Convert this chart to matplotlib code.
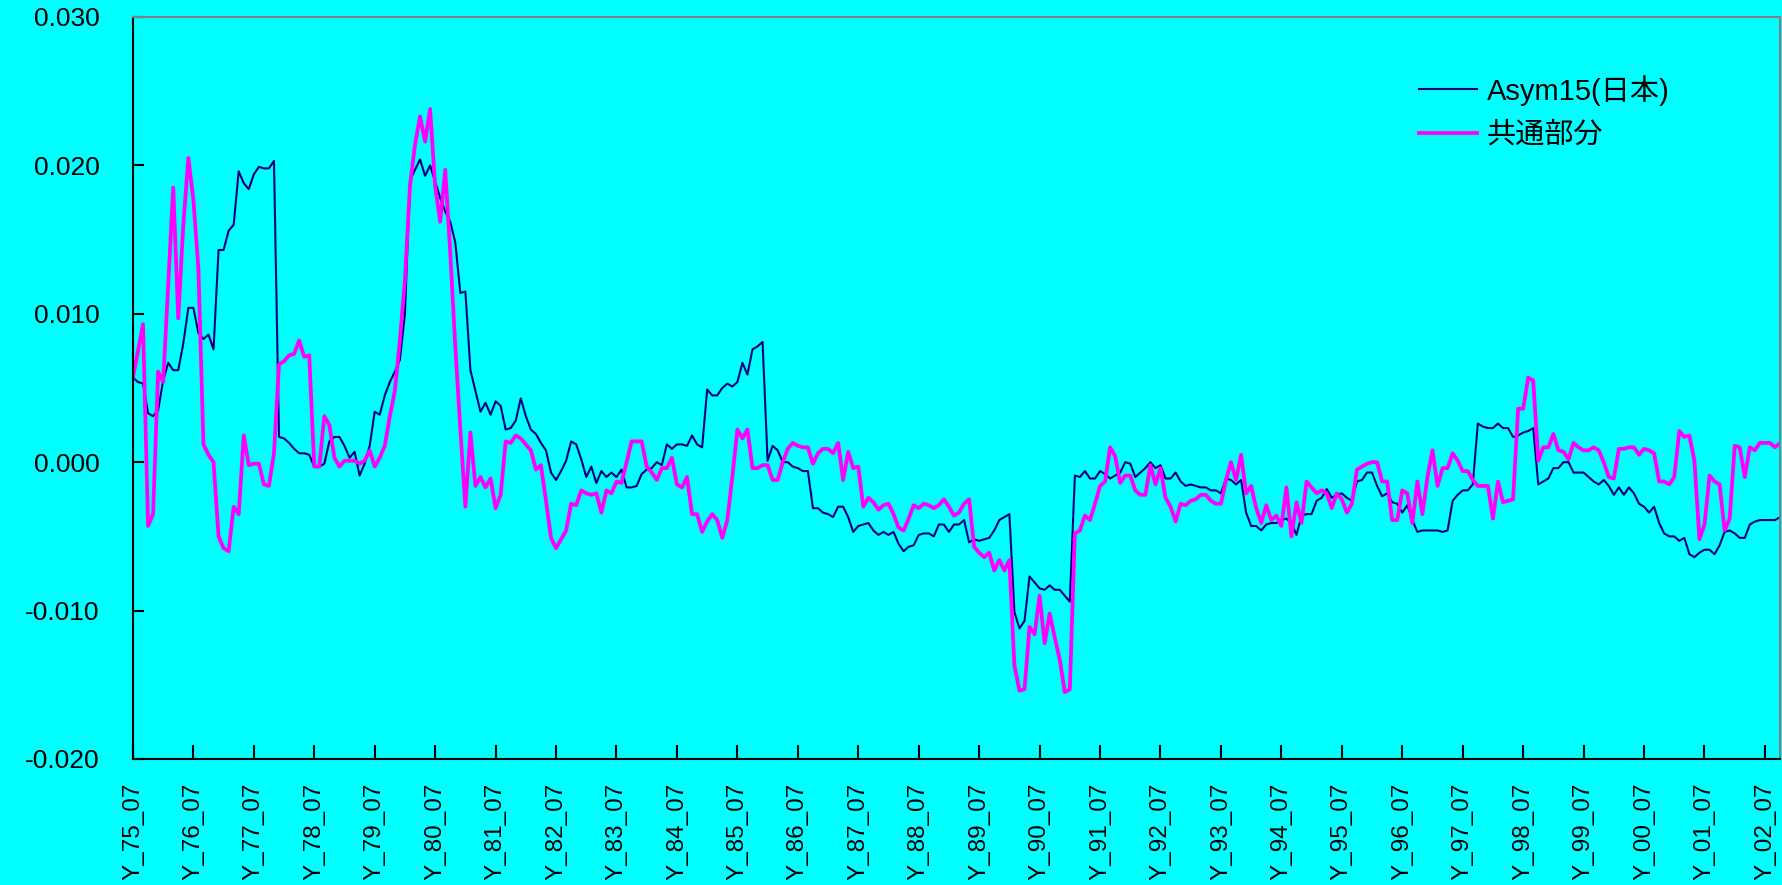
import matplotlib
matplotlib.use("Agg")
import matplotlib.pyplot as plt
from matplotlib.ticker import FormatStrFormatter

# font: arial-like for latin, CJK fallback for the legend
plt.rcParams["font.family"] = ["Liberation Sans", "Noto Sans CJK JP"]

# monthly values from Y_75_07 onwards
asym15 = [
    0.0057, 0.0054, 0.0053, 0.0033, 0.0031, 0.0035, 0.0055, 0.0067, 0.0062, 0.0062,
    0.0080, 0.0104, 0.0104, 0.0087, 0.0083, 0.0086, 0.0076, 0.0143, 0.0143, 0.0156,
    0.0160, 0.0196, 0.0188, 0.0184, 0.0194, 0.0199, 0.0198, 0.0198, 0.0203, 0.0017,
    0.0016, 0.0013, 0.0009, 0.0006, 0.0006, 0.0005, -0.0003, -0.0003, -0.0001, 0.0014,
    0.0017, 0.0017, 0.0011, 0.0003, 0.0007, -0.0009, -0.0001, 0.0011, 0.0034, 0.0032,
    0.0045, 0.0054, 0.0061, 0.0069, 0.0100, 0.0190, 0.0197, 0.0204, 0.0193, 0.0200,
    0.0189, 0.0178, 0.0169, 0.0162, 0.0148, 0.0114, 0.0115, 0.0062, 0.0048, 0.0034,
    0.0040, 0.0032, 0.0041, 0.0038, 0.0022, 0.0023, 0.0028, 0.0043, 0.0031, 0.0022,
    0.0019, 0.0013, 0.0008, -0.0007, -0.0012, -0.0006, 0.0001, 0.0014, 0.0012, 0.0002,
    -0.0010, -0.0003, -0.0014, -0.0006, -0.0010, -0.0007, -0.0010, -0.0005, -0.0017, -0.0017,
    -0.0016, -0.0008, -0.0005, -0.0004, 0.0000, -0.0002, 0.0012, 0.0009, 0.0012, 0.0012,
    0.0011, 0.0018, 0.0012, 0.0010, 0.0049, 0.0045, 0.0045, 0.0050, 0.0053, 0.0051,
    0.0054, 0.0067, 0.0059, 0.0076, 0.0078, 0.0081, 0.0001, 0.0011, 0.0008, 0.0000,
    0.0000, -0.0003, -0.0004, -0.0006, -0.0006, -0.0031, -0.0031, -0.0034, -0.0035, -0.0037,
    -0.0030, -0.0030, -0.0037, -0.0047, -0.0043, -0.0042, -0.0041, -0.0046, -0.0049, -0.0047,
    -0.0049, -0.0047, -0.0055, -0.0060, -0.0057, -0.0056, -0.0049, -0.0048, -0.0048, -0.0050,
    -0.0042, -0.0042, -0.0047, -0.0042, -0.0042, -0.0039, -0.0054, -0.0052, -0.0053, -0.0052,
    -0.0051, -0.0046, -0.0039, -0.0037, -0.0035, -0.0101, -0.0112, -0.0107, -0.0077, -0.0081,
    -0.0085, -0.0086, -0.0083, -0.0086, -0.0086, -0.0090, -0.0094, -0.0009, -0.0010, -0.0006,
    -0.0011, -0.0011, -0.0006, -0.0008, -0.0011, -0.0009, -0.0007, 0.0000, -0.0001, -0.0010,
    -0.0007, -0.0004, 0.0000, -0.0004, -0.0002, -0.0011, -0.0011, -0.0007, -0.0013, -0.0016,
    -0.0015, -0.0016, -0.0017, -0.0017, -0.0019, -0.0019, -0.0021, -0.0011, -0.0012, -0.0015,
    -0.0012, -0.0034, -0.0043, -0.0043, -0.0046, -0.0042, -0.0041, -0.0041, -0.0039, -0.0038,
    -0.0041, -0.0049, -0.0036, -0.0035, -0.0035, -0.0026, -0.0024, -0.0018, -0.0024, -0.0022,
    -0.0021, -0.0024, -0.0026, -0.0013, -0.0012, -0.0007, -0.0007, -0.0016, -0.0023, -0.0021,
    -0.0027, -0.0028, -0.0034, -0.0029, -0.0039, -0.0047, -0.0046, -0.0046, -0.0046, -0.0046,
    -0.0047, -0.0046, -0.0026, -0.0022, -0.0019, -0.0019, -0.0015, 0.0026, 0.0024, 0.0023,
    0.0023, 0.0026, 0.0023, 0.0023, 0.0017, 0.0018, 0.0020, 0.0021, 0.0023, -0.0015,
    -0.0013, -0.0011, -0.0004, -0.0004, 0.0000, 0.0000, -0.0007, -0.0007, -0.0007, -0.0010,
    -0.0013, -0.0015, -0.0012, -0.0016, -0.0022, -0.0017, -0.0022, -0.0017, -0.0021, -0.0028,
    -0.0030, -0.0034, -0.0030, -0.0041, -0.0048, -0.0050, -0.0050, -0.0053, -0.0051, -0.0062,
    -0.0064, -0.0061, -0.0059, -0.0059, -0.0062, -0.0056, -0.0047, -0.0046, -0.0048, -0.0051,
    -0.0051, -0.0042, -0.0040, -0.0039, -0.0039, -0.0039, -0.0039, -0.0037,
]

common = [
    0.0057, 0.0075, 0.0093, -0.0043, -0.0035, 0.0061, 0.0054, 0.0120, 0.0185, 0.0097,
    0.0160, 0.0205, 0.0177, 0.0130, 0.0012, 0.0005, 0.0000, -0.0050, -0.0058, -0.0060,
    -0.0030, -0.0035, 0.0018, -0.0002, -0.0001, -0.0001, -0.0015, -0.0016, 0.0006, 0.0066,
    0.0068, 0.0072, 0.0073, 0.0082, 0.0071, 0.0072, -0.0003, -0.0003, 0.0031, 0.0025,
    0.0003, -0.0003, 0.0001, 0.0001, 0.0001, -0.0001, 0.0001, 0.0008, -0.0003, 0.0003,
    0.0011, 0.0031, 0.0048, 0.0082, 0.0123, 0.0186, 0.0214, 0.0233, 0.0216, 0.0238,
    0.0186, 0.0162, 0.0197, 0.0141, 0.0078, 0.0022, -0.0030, 0.0020, -0.0016, -0.0010,
    -0.0017, -0.0011, -0.0031, -0.0022, 0.0014, 0.0013, 0.0018, 0.0016, 0.0012, 0.0008,
    -0.0005, -0.0002, -0.0026, -0.0051, -0.0058, -0.0052, -0.0046, -0.0028, -0.0029, -0.0019,
    -0.0021, -0.0022, -0.0021, -0.0034, -0.0019, -0.0021, -0.0013, -0.0014, 0.0000, 0.0014,
    0.0014, 0.0014, -0.0003, -0.0007, -0.0012, -0.0004, -0.0004, 0.0003, -0.0015, -0.0017,
    -0.0010, -0.0035, -0.0035, -0.0047, -0.0040, -0.0035, -0.0039, -0.0051, -0.0039, -0.0010,
    0.0022, 0.0016, 0.0022, -0.0004, -0.0004, -0.0002, -0.0002, -0.0012, -0.0012, 0.0000,
    0.0009, 0.0013, 0.0011, 0.0010, 0.0010, -0.0001, 0.0006, 0.0009, 0.0009, 0.0006,
    0.0013, -0.0012, 0.0007, -0.0004, -0.0003, -0.0030, -0.0024, -0.0027, -0.0032, -0.0029,
    -0.0028, -0.0035, -0.0044, -0.0046, -0.0038, -0.0029, -0.0031, -0.0028, -0.0029, -0.0031,
    -0.0029, -0.0025, -0.0030, -0.0036, -0.0034, -0.0028, -0.0025, -0.0057, -0.0061, -0.0064,
    -0.0061, -0.0073, -0.0066, -0.0073, -0.0066, -0.0137, -0.0154, -0.0153, -0.0111, -0.0116,
    -0.0090, -0.0122, -0.0102, -0.0118, -0.0133, -0.0155, -0.0153, -0.0048, -0.0046, -0.0036,
    -0.0039, -0.0028, -0.0016, -0.0013, 0.0010, 0.0004, -0.0014, -0.0009, -0.0009, -0.0019,
    -0.0022, -0.0022, -0.0002, -0.0015, -0.0004, -0.0024, -0.0030, -0.0040, -0.0028, -0.0029,
    -0.0026, -0.0025, -0.0022, -0.0022, -0.0026, -0.0028, -0.0028, -0.0012, 0.0000, -0.0012,
    0.0005, -0.0021, -0.0016, -0.0031, -0.0041, -0.0029, -0.0039, -0.0036, -0.0043, -0.0017,
    -0.0050, -0.0027, -0.0041, -0.0013, -0.0017, -0.0021, -0.0019, -0.0021, -0.0031, -0.0021,
    -0.0025, -0.0034, -0.0028, -0.0005, -0.0003, -0.0001, 0.0000, 0.0000, -0.0013, -0.0013,
    -0.0039, -0.0039, -0.0019, -0.0021, -0.0041, -0.0013, -0.0035, -0.0010, 0.0008, -0.0016,
    -0.0004, -0.0004, 0.0006, 0.0001, -0.0006, -0.0006, -0.0012, -0.0016, -0.0016, -0.0016,
    -0.0038, -0.0013, -0.0027, -0.0026, -0.0025, 0.0036, 0.0036, 0.0057, 0.0055, 0.0001,
    0.0010, 0.0010, 0.0019, 0.0008, 0.0007, 0.0002, 0.0013, 0.0010, 0.0008, 0.0008,
    0.0010, 0.0008, 0.0000, -0.0010, -0.0011, 0.0009, 0.0009, 0.0010, 0.0010, 0.0005,
    0.0009, 0.0008, 0.0006, -0.0013, -0.0013, -0.0015, -0.0010, 0.0021, 0.0017, 0.0018,
    0.0001, -0.0052, -0.0042, -0.0009, -0.0013, -0.0015, -0.0046, -0.0038, 0.0011, 0.0010,
    -0.0010, 0.0010, 0.0008, 0.0013, 0.0013, 0.0013, 0.0010, 0.0013,
]

# one label every 12 months (July of each year)
years = ["75", "76", "77", "78", "79", "80", "81", "82", "83", "84", "85", "86", "87", "88",
         "89", "90", "91", "92", "93", "94", "95", "96", "97", "98", "99", "00", "01", "02"]
tick_labels = ["Y_" + y + "_07" for y in years]

labels = ["Asym15(日本)", "共通部分"]

bg = "#00FFFF"
fig = plt.figure(figsize=(17.82, 8.85), dpi=100, facecolor=bg)
ax = fig.add_axes([0.0746, 0.1424, 0.9243, 0.8384], facecolor=bg)

ax.plot(range(len(asym15)), asym15, color="#000080", lw=1.5, label=labels[0])
ax.plot(range(len(common)), common, color="#FF00FF", lw=2.7, label=labels[1])

ax.set_xlim(0, len(asym15) - 1)
ax.set_ylim(-0.02, 0.03)
ax.set_yticks([-0.02, -0.01, 0.0, 0.01, 0.02, 0.03])
ax.yaxis.set_major_formatter(FormatStrFormatter("%.3f"))
ax.set_xticks([12 * i for i in range(len(tick_labels))])
ax.set_xticklabels(tick_labels, rotation=90)

ax.tick_params(axis="y", direction="in", length=8, width=1.5, labelsize=19, pad=24)
ax.tick_params(axis="x", direction="in", length=10, width=1.5, labelsize=17.5, pad=17)

for side in ["left", "bottom"]:
    ax.spines[side].set_color("black")
    ax.spines[side].set_linewidth(1.5)
for side in ["top", "right"]:
    ax.spines[side].set_color("#808080")
    ax.spines[side].set_linewidth(1.5)

ax.legend(loc="upper left", bbox_to_anchor=(0.781, 0.922), frameon=False, fontsize=21,
          handlelength=1.97, handletextpad=0.35, labelspacing=0.52, borderpad=0, borderaxespad=0)

fig.savefig("out.png", dpi=100, facecolor=bg)
